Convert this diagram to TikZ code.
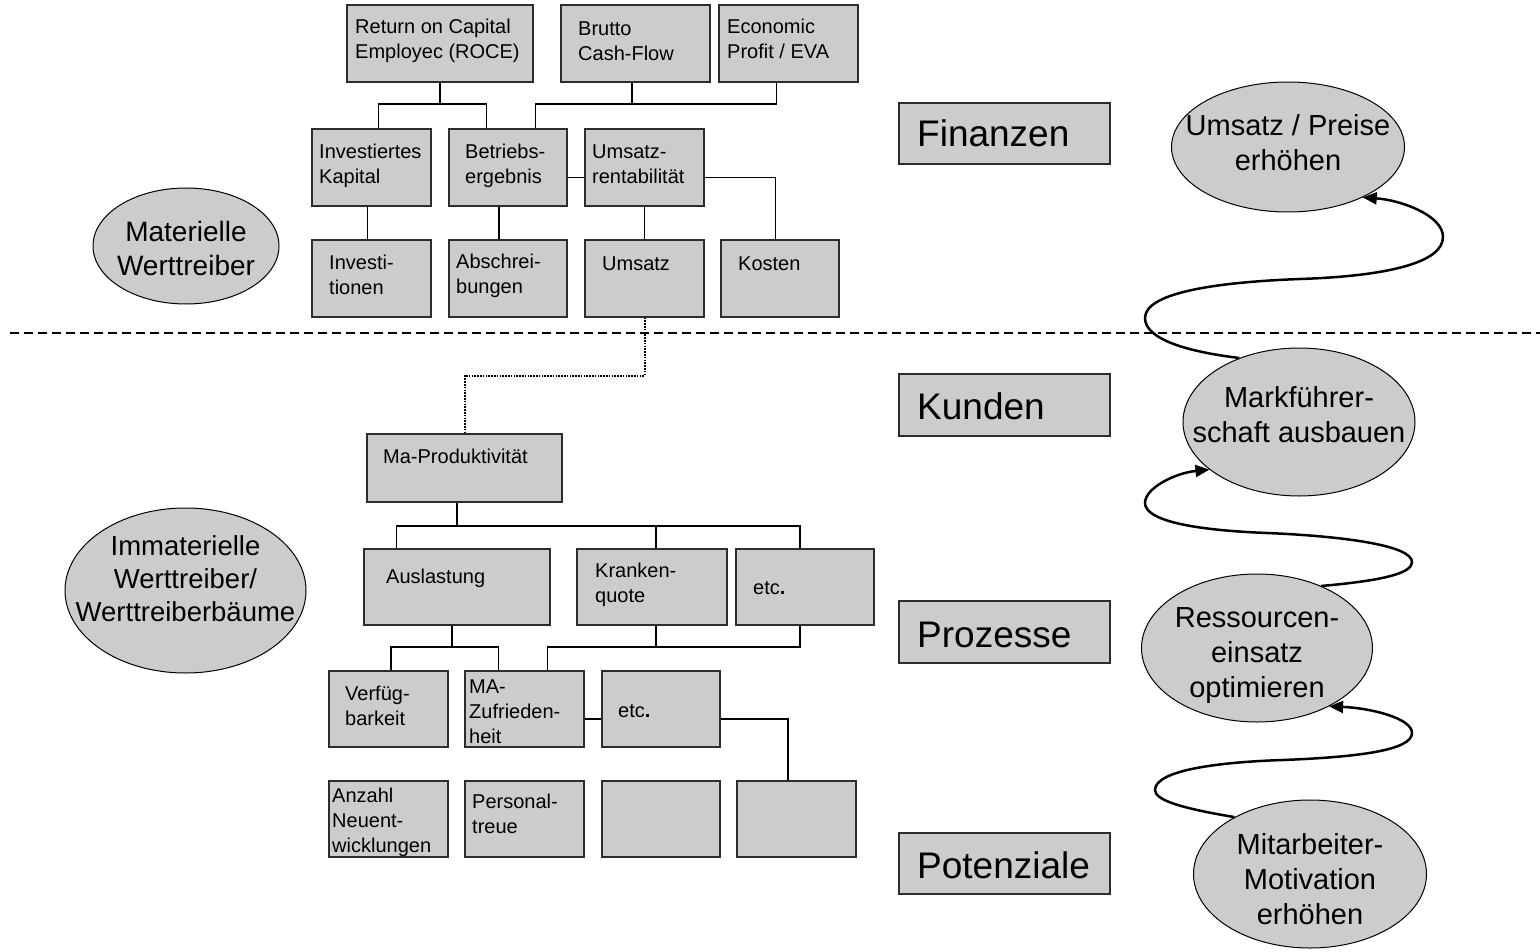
\documentclass[tikz,border=0pt]{standalone}
\usepackage{fontspec}
\setmainfont{Liberation Sans}
\usetikzlibrary{shapes.geometric,arrows.meta,fit}
\definecolor{boxgray}{RGB}{204,204,204}
\definecolor{edgegray}{RGB}{45,45,45}
\newcommand\bt[4]{\node[btxt] (#1) at (#2,#3-16) {\rule{0pt}{16pt}#4};}
\newcommand\bx[5]{\node[box,fit={(#2,#3)(#4,#5)}] (#1) {};}
\begin{document}
\begin{tikzpicture}[x=1pt,y=-1pt,
 box/.style={draw=edgegray,fill=boxgray,line width=1.3pt,inner sep=0pt},
 btxt/.style={anchor=north west,inner sep=0pt,align=left,font=\fontsize{20}{25}\selectfont},
 lab/.style={anchor=base west,inner sep=0pt,font=\fontsize{37}{44}\selectfont},
 ell/.style={ellipse,draw=black,fill=boxgray,line width=1pt,inner sep=0pt},
 etxt/.style={inner sep=0pt,align=center,font=\fontsize{29}{35}\selectfont},
 conn/.style={line width=1.3pt,draw=black},
 dotconn/.style={line width=2pt,dash pattern=on 1.6pt off 1.2pt},
 dashline/.style={line width=2pt,dash pattern=on 9pt off 5pt},
 swirl/.style={line width=2.5pt,-{Triangle[length=14pt,width=12pt]}}]
\useasboundingbox (0,0) rectangle (1540,952);

% ---------- upper tree ----------
\bx{roce}{347}{5}{533}{82}
\bx{brutto}{561}{5}{710}{82}
\bx{eva}{719}{5}{858}{82}
\bx{inv}{312}{129}{431}{206}
\bx{betr}{449}{129}{567}{206}
\bx{urent}{585}{129}{704}{206}
\bx{invest}{312}{240}{431}{317}
\bx{absch}{449}{240}{567}{317}
\bx{umsatz}{585}{240}{704}{317}
\bx{kosten}{721}{240}{839}{317}

\bt{troce}{355}{33}{Return on Capital\\Employec (ROCE)}
\bt{tbrutto}{578}{35}{Brutto\\Cash-Flow}
\bt{teva}{727}{33}{Economic\\Profit / EVA}
\bt{tinv}{319}{158}{Investiertes\\Kapital}
\bt{tbetr}{465}{158}{Betriebs-\\ergebnis}
\bt{turent}{592}{158}{Umsatz-\\rentabilität}
\bt{tinvest}{329}{269}{Investi-\\tionen}
\bt{tabsch}{456}{268}{Abschrei-\\bungen}
\bt{tumsatz}{602}{270}{Umsatz}
\bt{tkosten}{738}{270}{Kosten}

\coordinate (j1) at (440,104);
\coordinate (j2) at (632,104);
\draw[conn] (roce.south) -- (j1);
\draw[conn] ([xshift=67pt]inv.north west) |- (j1) -| ([xshift=38pt]betr.north west);
\draw[conn] ([xshift=-3.5pt]brutto.south) -- (j2);
\draw[conn] ([xshift=87pt]betr.north west) |- (j2) -| ([xshift=58pt]eva.south west);
\draw[conn] ([yshift=-10pt]betr.east) -- ([yshift=-10pt]urent.west);
\draw[conn] ([yshift=-10pt]urent.east) -| ([xshift=55pt]kosten.north west);
\draw[conn] ([xshift=-4pt]inv.south) -- ([xshift=-4pt]invest.north);
\draw[conn] ([xshift=-9pt]betr.south) -- ([xshift=-9pt]absch.north);
\draw[conn] (urent.south) -- (umsatz.south |- urent.south) -- (umsatz.north);

% ---------- dashed separator ----------
\draw[dashline] (10,333) -- (1540,333);

% ---------- lower tree ----------
\bx{ma}{367}{434}{562}{502}
\bx{ausl}{364}{549}{550}{625}
\bx{krank}{577}{549}{727}{625}
\bx{etca}{736}{549}{874}{625}
\bx{verf}{329}{671}{448}{747}
\bx{maz}{465}{671}{584}{747}
\bx{etcb}{602}{671}{720}{747}
\bx{anz}{329}{781}{448}{857}
\bx{pers}{465}{781}{584}{857}
\bx{ea}{602}{781}{720}{857}
\bx{eb}{737}{781}{856}{857}

\bt{tma}{383}{463}{Ma-Produktivität}
\bt{tausl}{386}{583}{Auslastung}
\bt{tkrank}{595}{577}{Kranken-\\quote}
\bt{tetca}{753}{594}{etc\textbf{.}}
\bt{tverf}{345}{700}{Verfüg-\\barkeit}
\bt{tmaz}{469}{693}{MA-\\Zufrieden-\\heit}
\bt{tetcb}{618}{717}{etc\textbf{.}}
\bt{tanz}{332}{802}{Anzahl\\Neuent-\\wicklungen}
\bt{tpers}{472}{808}{Personal-\\treue}

\draw[dotconn] (umsatz.south) -- (umsatz.south |- 0,376) -| (ma.north);

\coordinate (j3) at (457,526);
\draw[conn] ([xshift=-7.5pt]ma.south) -- (j3);
\draw[conn] ([xshift=33pt]ausl.north west) |- (j3) -| ([xshift=-5pt]etca.north);
\draw[conn] ([xshift=4pt]krank.north) -- ([xshift=4pt]krank.north |- j3);

\coordinate (j4) at (452,647);
\coordinate (j5) at (656,647);
\draw[conn] ([xshift=-5pt]ausl.south) -- (j4);
\draw[conn] ([xshift=2.5pt]verf.north) |- (j4) -| ([xshift=34pt]maz.north west);
\draw[conn] ([xshift=4pt]krank.south) -- (j5);
\draw[conn] ([xshift=83pt]maz.north west) |- (j5) -| ([xshift=-5pt]etca.south);
\draw[conn] ([yshift=-10pt]maz.east) -- ([yshift=-10pt]etcb.west);
\draw[conn] ([yshift=-10pt]etcb.east) -| ([xshift=-8.5pt]eb.north);

% ---------- perspective labels ----------
\bx{fin}{899}{103}{1110}{164}
\bx{kun}{899}{374}{1110}{436}
\bx{proz}{899}{601}{1110}{663}
\bx{pot}{899}{833}{1110}{894}
\node[lab] (tfin) at (917,147) {Finanzen};
\node[lab] (tkun) at (917,419) {Kunden};
\node[lab] (tproz) at (917,647) {Prozesse};
\node[lab] (tpot) at (917,878) {Potenziale};

% ---------- ellipses ----------
\node[ell,minimum width=186pt,minimum height=116pt] (mat) at (186,246) {};
\node[etxt,font=\fontsize{28}{34}\selectfont] (tmat) at ([yshift=-2pt]mat.center) {Materielle\\Werttreiber};
\node[ell,minimum width=241pt,minimum height=165pt] (imm) at (185.5,590.5) {};
\node[etxt,font=\fontsize{27.5}{33}\selectfont] (timm) at ([yshift=12pt]imm.center) {Immaterielle\\Werttreiber/\\Werttreiberbäume};

\node[ell,minimum width=233pt,minimum height=130pt] (ump) at (1288,147) {};
\node[etxt] (tump) at ([yshift=4.5pt]ump.center) {Umsatz / Preise\\erhöhen};
\node[ell,minimum width=232pt,minimum height=148pt] (mf) at (1299,422) {};
\node[etxt] (tmf) at ([yshift=7pt]mf.center) {Markführer-\\schaft ausbauen};
\node[ell,minimum width=231pt,minimum height=148pt] (res) at (1257,648) {};
\node[etxt] (tres) at ([yshift=-8pt]res.center) {Ressourcen-\\einsatz\\optimieren};
\node[ell,minimum width=233pt,minimum height=148pt] (mit) at (1310,874) {};
\node[etxt] (tmit) at ([yshift=-5pt]mit.center) {Mitarbeiter-\\Motivation\\erhöhen};

% ---------- swirl arrows ----------
\draw[swirl] (mf.133) .. controls (1190,352) and (1145,340) .. (1145,318)
  .. controls (1145,292) and (1220,282) .. (1300,279)
  .. controls (1390,276) and (1443,262) .. (1443,237)
  .. controls (1443,215) and (1400,200) .. (ump.-34);
\draw[swirl] (res.44) .. controls (1390,580) and (1412,572) .. (1412,562)
  .. controls (1412,545) and (1340,536) .. (1267,533)
  .. controls (1190,530) and (1145,520) .. (1145,503)
  .. controls (1145,488) and (1175,473) .. (mf.208);
\draw[swirl] (mit.143) .. controls (1180,808) and (1155,800) .. (1155,790)
  .. controls (1155,770) and (1220,762) .. (1283,760)
  .. controls (1360,757) and (1412,750) .. (1412,733)
  .. controls (1412,718) and (1370,708) .. (res.-39);
\end{tikzpicture}
\end{document}
